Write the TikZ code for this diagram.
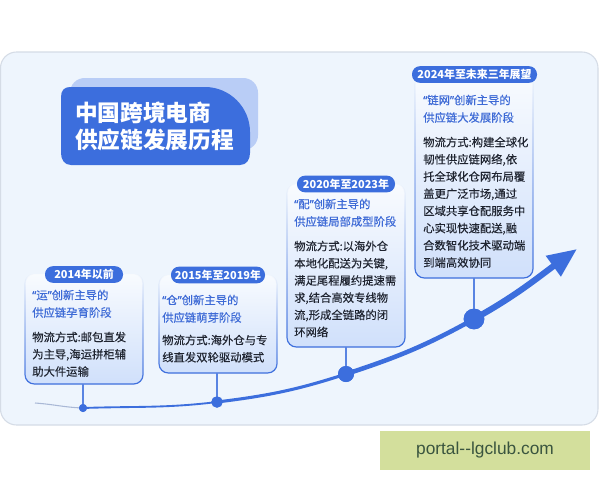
\documentclass[tikz,border=0pt]{standalone}
\usepackage{fontspec}
\setmainfont{Noto Sans CJK SC}
\newfontfamily\medfont[FakeBold=0.6]{Noto Sans CJK SC}
\newfontfamily\bodyfont[FakeBold=0.25]{Noto Sans CJK SC}
\newfontfamily\qfont[FakeBold=0.6]{Noto Sans}
\newfontfamily\wmfont{Liberation Sans}
\newcommand\myLq{{\qfont “}}
\newcommand\myRq{{\qfont ”}}
\usetikzlibrary{fadings,arrows.meta}
\definecolor{panelbg}{HTML}{EEF5FD}
\definecolor{panelbd}{HTML}{D5DCE6}
\definecolor{mainblue}{HTML}{3C6EDD}
\definecolor{lightblue}{HTML}{B9CDF6}
\definecolor{subblue}{HTML}{3D6AD6}
\definecolor{cardbot}{HTML}{D0E0FB}
\definecolor{textdark}{HTML}{1F2430}
\definecolor{wmbg}{HTML}{D3DF9C}
\definecolor{wmtext}{HTML}{3A553F}
\definecolor{startgray}{HTML}{A9B8D6}
\tikzfading[name=cardfade, top color=transparent!100, middle color=transparent!35, bottom color=transparent!0]
\tikzset{
  pill/.style={fill=mainblue, text=white, rounded corners=6pt, minimum height=12.5pt,
    inner sep=0pt, font=\fontsize{8.2}{10}\selectfont\bfseries},
  subtxt/.style={anchor=north west, inner sep=0pt, align=left, text=subblue,
    font=\medfont\fontsize{8.5}{13.1}\selectfont},
  bodytxt/.style={anchor=north west, inner sep=0pt, align=left, text=textdark,
    font=\bodyfont\fontsize{8.5}{12.9}\selectfont},
  cardfill/.style={top color=panelbg!40!white, bottom color=cardbot, rounded corners=7pt},
  cardedge/.style={draw=mainblue, line width=0.9pt, path fading=cardfade, rounded corners=7pt},
  stem/.style={draw=mainblue!85, line width=0.8pt},
  dot/.style={circle, fill=mainblue, inner sep=0pt},
  curveline/.style={draw=mainblue, line cap=round}
}
\begin{document}
\begin{tikzpicture}[x=0.75pt,y=-0.75pt]
\useasboundingbox (0,0) rectangle (600,480);
\fill[white] (0,0) rectangle (600,480);
% panel
\draw[panelbd, fill=panelbg, line width=0.8pt, rounded corners=12pt] (0.5,52) rectangle (598,425);
% title
\fill[lightblue, rounded corners=11pt] (70,78) rectangle (258,150);
\fill[mainblue] (70,87) -- (205,87) .. controls (229.75,87) and (250,107.25) .. (250,132)
  -- (250,153) .. controls (250,159.6) and (246.6,165) .. (240,165)
  -- (71,165) .. controls (64.4,165) and (61,159.6) .. (61,153)
  -- (61,97) .. controls (61,90.4) and (64.4,87) .. (70,87) -- cycle;
\node[anchor=west, text=white, inner sep=0pt, font=\fontsize{17}{20}\selectfont\bfseries] (t1) at (75,113) {中国跨境电商};
\node[anchor=west, text=white, inner sep=0pt, font=\fontsize{17}{20}\selectfont\bfseries] (t2) at (75,140) {供应链发展历程};

% card 1
\shade[cardfill] (25,274) rectangle (143,384);
\path[cardedge] (25,274) rectangle (143,384);
\node[pill, minimum width=58.5pt] (p1) at (84,274.5) {2014年以前};
\node[subtxt] (s1) at (32,289.5) {\myLq 运\myRq 创新主导的\\供应链孕育阶段};
\node[bodytxt] (b1) at (32,331.5) {物流方式:邮包直发\\为主导,海运拼柜辅\\助大件运输};
\coordinate (c1) at (83,384);

% card 2
\shade[cardfill] (159,275) rectangle (277,373);
\path[cardedge] (159,275) rectangle (277,373);
\node[pill, minimum width=70.5pt] (p2) at (218,275) {2015年至2019年};
\node[subtxt] (s2) at (162,294.5) {\myLq 仓\myRq 创新主导的\\供应链萌芽阶段};
\node[bodytxt] (b2) at (162,334.5) {物流方式:海外仓与专\\线直发双轮驱动模式};
\coordinate (c2) at (217,373);

% card 3
\shade[cardfill] (287,184) rectangle (405,347);
\path[cardedge] (287,184) rectangle (405,347);
\node[pill, minimum width=73.5pt] (p3) at (346,184) {2020年至2023年};
\node[subtxt] (s3) at (294,198.5) {\myLq 配\myRq 创新主导的\\供应链局部成型阶段};
\node[bodytxt] (b3) at (294,240.5) {物流方式:以海外仓\\本地化配送为关键,\\满足尾程履约提速需\\求,结合高效专线物\\流,形成全链路的闭\\环网络};
\coordinate (c3) at (346,347);

% card 4
\shade[cardfill] (415,75) rectangle (533,278);
\path[cardedge] (415,75) rectangle (533,278);
\node[pill, minimum width=93.75pt] (p4) at (474.5,74.5) {2024年至未来三年展望};
\node[subtxt] (s4) at (423,94.5) {\myLq 链网\myRq 创新主导的\\供应链大发展阶段};
\node[bodytxt] (b4) at (423,136.5) {物流方式:构建全球化\\韧性供应链网络,依\\托全球化仓网布局覆\\盖更广泛市场,通过\\区域共享仓配服务中\\心实现快速配送,融\\合数智化技术驱动端\\到端高效协同};
\coordinate (c4) at (474,278);

% timeline
\coordinate (s0) at (35,403);
\node[dot, minimum size=6pt] (d1) at (83,408) {};
\node[dot, minimum size=8.5pt] (d2) at (217,402) {};
\node[dot, minimum size=12pt] (d3) at (346,374) {};
\node[dot, minimum size=15.5pt] (d4) at (474,319) {};
\coordinate (tip) at (577,249);

\draw[stem] (c1) -- (d1.center);
\draw[stem] (c2) -- (d2.center);
\draw[stem] (c3) -- (d3.center);
\draw[stem] (c4) -- (d4.center);

\draw[draw=startgray, line width=0.8pt] (s0) to[out=-4,in=178] (d1.center);
\draw[curveline, line width=1.4pt] (d1.center) to[out=2,in=187] (d2.center);
\draw[curveline, line width=2.3pt] (d2.center) to[out=7,in=198] (d3.center);
\draw[curveline, line width=3.4pt] (d3.center) to[out=18,in=209] (d4.center);
\draw[draw=mainblue, line width=4.6pt, -{Triangle[length=22pt,width=18pt]}] (d4.center) to[out=29,in=216] (tip);
\node[dot, minimum size=6pt] at (d1) {};
\node[dot, minimum size=8.5pt] at (d2) {};
\node[dot, minimum size=12pt] at (d3) {};
\node[dot, minimum size=15.5pt] at (d4) {};

% watermark
\node[fill=wmbg, minimum width=157.5pt, minimum height=29pt, inner sep=0pt,
  text=wmtext, font=\wmfont\fontsize{13}{15}\selectfont] (wm) at (485,450.5) {portal-{}-lgclub.com};
\end{tikzpicture}
\end{document}
